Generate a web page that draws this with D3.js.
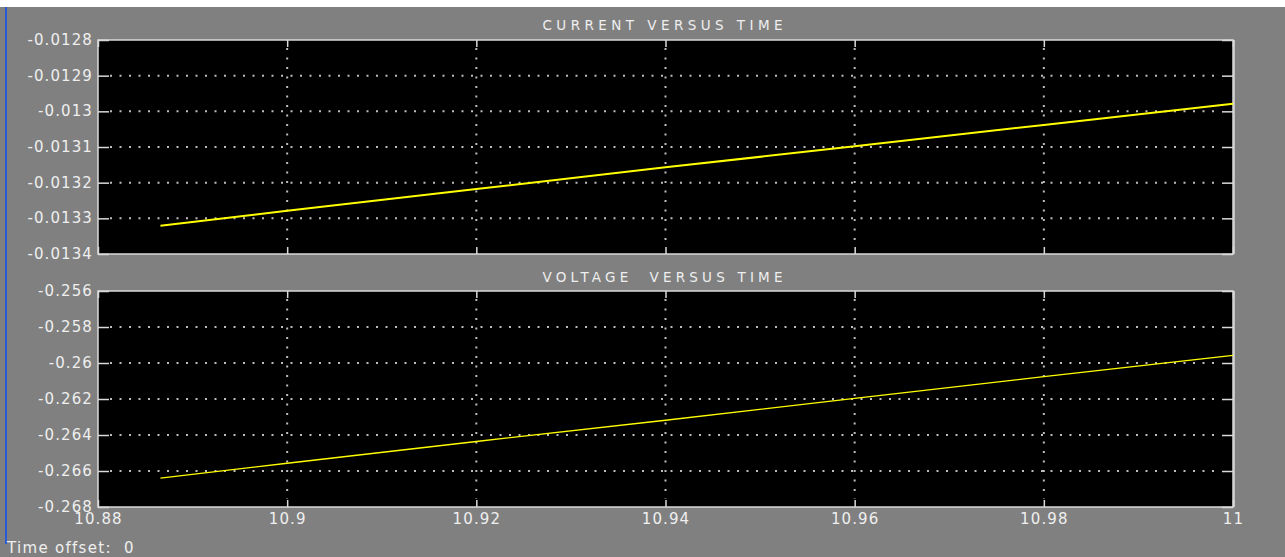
<!DOCTYPE html>
<html><head><meta charset="utf-8">
<script src="https://cdn.jsdelivr.net/npm/d3@7"></script>
<style>
html,body{margin:0;padding:0;background:#808080;overflow:hidden;}
svg{display:block;}
text{font-family:"DejaVu Sans",sans-serif;fill:#efefef;}
</style></head>
<body>
<svg id="c" width="1285" height="557"></svg>
<script>
// ---- data ----
const time    = [10.8866, 10.9, 10.92, 10.94, 10.96, 10.98, 11.0];
const current = [-0.013321, -0.013279, -0.013218, -0.013157, -0.013098, -0.013038, -0.012979];
const voltage = [-0.26640, -0.26557, -0.26436, -0.26318, -0.26196, -0.26076, -0.25958];
const xTicks = [10.88, 10.9, 10.92, 10.94, 10.96, 10.98, 11];
const yTicksCurrent = [-0.0134, -0.0133, -0.0132, -0.0131, -0.013, -0.0129, -0.0128];
const yTicksVoltage = [-0.268, -0.266, -0.264, -0.262, -0.26, -0.258, -0.256];
const titles = ["CURRENT VERSUS TIME", "VOLTAGE  VERSUS TIME"];
const offsetLabel = "Time offset:  0";

const svg = d3.select("#c");
const W = 1285, H = 557;
svg.append("rect").attr("width", W).attr("height", H).attr("fill", "#808080");
svg.append("rect").attr("width", W).attr("height", 7).attr("fill", "#ffffff");
svg.append("rect").attr("x", 5).attr("y", 7).attr("width", 2).attr("height", 537).attr("fill", "#2a5ad8");

const left = 98, right = 1233;
const x = d3.scaleLinear().domain([10.88, 11]).range([left, right]);

const panels = [
  {top: 40, bottom: 254, ticks: yTicksCurrent, vals: current, title: titles[0], titleY: 30,
   fmt: d => String(+d.toFixed(4)), lw: 2, labels: false},
  {top: 291, bottom: 507, ticks: yTicksVoltage, vals: voltage, title: titles[1], titleY: 282,
   fmt: d => String(+d.toFixed(3)), lw: 1.3, labels: true}
];

const frameCol = "#d9d9d9";

panels.forEach(p => {
  const y = d3.scaleLinear().domain([p.ticks[0], p.ticks[p.ticks.length - 1]]).range([p.bottom, p.top]);
  const g = svg.append("g");
  g.append("rect").attr("x", left).attr("y", p.top).attr("width", right - left).attr("height", p.bottom - p.top)
    .attr("fill", "#000");

  // dotted grid
  const grid = g.append("g").attr("stroke", "#bdbdbd").attr("stroke-width", 2).attr("stroke-dasharray", "2,7.5");
  p.ticks.slice(1, -1).forEach(t => {
    grid.append("line").attr("x1", left + 12).attr("x2", right - 12).attr("y1", y(t)).attr("y2", y(t));
  });
  xTicks.slice(1, -1).forEach(t => {
    grid.append("line").attr("x1", x(t)).attr("x2", x(t)).attr("y1", p.top + 8).attr("y2", p.bottom - 8);
  });

  // axes with inward ticks
  const ya = g.append("g").attr("transform", `translate(${left},0)`)
    .call(d3.axisLeft(y).tickValues(p.ticks).tickSize(-11).tickPadding(5).tickFormat(p.fmt));
  const yb = g.append("g").attr("transform", `translate(${right},0)`)
    .call(d3.axisRight(y).tickValues(p.ticks).tickSize(-11).tickFormat(""));
  const xt = g.append("g").attr("transform", `translate(0,${p.top})`)
    .call(d3.axisTop(x).tickValues(xTicks).tickSize(-7).tickFormat(""));
  const xb = g.append("g").attr("transform", `translate(0,${p.bottom})`)
    .call(d3.axisBottom(x).tickValues(xTicks).tickSize(-7).tickPadding(8)
      .tickFormat(p.labels ? (d => String(+d.toFixed(2))) : ""));
  [ya, yb, xt, xb].forEach(a => {
    a.select(".domain").remove();
    a.selectAll("line").attr("stroke", frameCol).attr("stroke-width", 1.5);
    a.selectAll("text").attr("fill", "#efefef").style("font-size", "15px").style("letter-spacing", "1.1px")
      .style("font-family", '"DejaVu Sans",sans-serif');
  });
  ya.selectAll("text").attr("dy", null).attr("y", 4.5);
  xb.selectAll("text").attr("dy", null).attr("y", 17);

  g.append("rect").attr("x", left).attr("y", p.top).attr("width", right - left).attr("height", p.bottom - p.top)
    .attr("fill", "none").attr("stroke", frameCol).attr("stroke-width", 1.5);
  g.append("line").attr("x1", right + 1).attr("x2", right + 1).attr("y1", p.top).attr("y2", p.bottom)
    .attr("stroke", frameCol).attr("stroke-width", 1.5);

  const line = d3.line().x((d, i) => x(time[i])).y(d => y(d));
  g.append("path").datum(p.vals).attr("d", line).attr("fill", "none")
    .attr("stroke", "#ffff00").attr("stroke-width", p.lw);

  g.append("text").attr("x", 662.5).attr("y", p.titleY).attr("text-anchor", "middle")
    .attr("textLength", 240).attr("lengthAdjust", "spacing")
    .style("font-size", "13.5px").style("white-space", "pre").attr("xml:space", "preserve").text(p.title);
});

svg.append("text").attr("x", 7).attr("y", 553).style("font-size", "15px").style("letter-spacing", "1.3px")
  .attr("xml:space", "preserve").style("white-space", "pre").text(offsetLabel);
</script>
</body></html>
